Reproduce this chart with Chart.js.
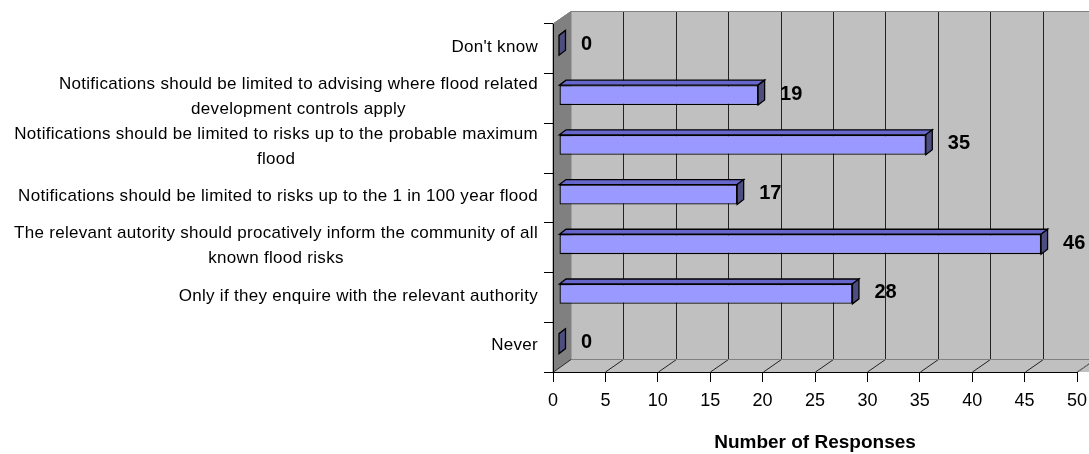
<!DOCTYPE html>
<html>
<head>
<meta charset="utf-8">
<script src="https://cdn.jsdelivr.net/npm/chart.js@4.4.1/dist/chart.umd.min.js"></script>
<style>
  html, body { margin: 0; padding: 0; background: #fff; }
</style>
</head>
<body>
<canvas id="chart" width="1089" height="454"></canvas>
<script>
// ===== Data =====
const categories = [
  ["Don't know"],
  ['Notifications should be limited to advising where flood related', 'development controls apply'],
  ['Notifications should be limited to risks up to the probable maximum', 'flood'],
  ['Notifications should be limited to risks up to the 1 in 100 year flood'],
  ['The relevant autority should procatively inform the community of all', 'known flood risks'],
  ['Only if they enquire with the relevant authority'],
  ['Never']
];
const responses = [0, 19, 35, 17, 46, 28, 0];
const xTickValues = [0, 5, 10, 15, 20, 25, 30, 35, 40, 45, 50];
const axisTitle = 'Number of Responses';

// ===== Look =====
const FONT = 'Arial, "Liberation Sans", sans-serif';
const WALL = { dx: 18, dy: -12.5 };      // depth of the box (front plane -> back wall)
const BAR_SHIFT = { dx: 6, dy: -3.5 };   // front face of the bars sits 1/3 into the box
const BAR_DEPTH = { dx: 6.5, dy: -5 };
const LINE_H = 25;

function poly(ctx, pts, fill, stroke) {
  ctx.beginPath();
  pts.forEach(([px, py], i) => (i ? ctx.lineTo(px, py) : ctx.moveTo(px, py)));
  ctx.closePath();
  if (fill) { ctx.fillStyle = fill; ctx.fill(); }
  if (stroke) { ctx.strokeStyle = stroke; ctx.stroke(); }
}

// --- back wall, side wall, floor and gridlines ---
const box3d = {
  id: 'box3d',
  beforeDraw(chart) {
    const { ctx, chartArea: a, scales: { x } } = chart;
    const { dx, dy } = WALL;
    ctx.save();
    ctx.lineWidth = 1;
    ctx.fillStyle = '#c0c0c0';
    ctx.fillRect(a.left + dx, a.top + dy, chart.width, a.height);
    poly(ctx, [[a.left, a.top], [a.left + dx, a.top + dy], [a.left + dx, a.bottom + dy], [a.left, a.bottom]], '#808080', '#808080');
    poly(ctx, [[a.left, a.bottom], [a.left + dx, a.bottom + dy], [chart.width + dx, a.bottom + dy], [chart.width, a.bottom]], '#c0c0c0', null);

    ctx.strokeStyle = '#222';
    x.ticks.forEach(t => {
      const px = Math.round(x.getPixelForValue(t.value));
      ctx.beginPath();
      if (t.value !== 0) {
        ctx.moveTo(px + dx + 0.5, a.top + dy);
        ctx.lineTo(px + dx + 0.5, a.bottom + dy);
      } else {
        ctx.moveTo(px + dx, a.bottom + dy);
      }
      ctx.lineTo(px + 0.5, a.bottom);
      ctx.stroke();
    });
    // edges of the box
    ctx.strokeStyle = '#808080';
    ctx.beginPath();
    ctx.moveTo(a.left, a.top);
    ctx.lineTo(a.left + dx, a.top + dy);
    ctx.lineTo(chart.width, a.top + dy);
    ctx.moveTo(a.left + dx, a.bottom + dy);
    ctx.lineTo(chart.width, a.bottom + dy);
    ctx.moveTo(x.getPixelForValue(50), a.bottom);
    ctx.lineTo(x.getPixelForValue(50) + dx, a.bottom + dy);
    ctx.stroke();
    ctx.restore();
  },
  beforeDatasetsDraw(chart) {
    chart.ctx.save();
    chart.ctx.translate(BAR_SHIFT.dx, BAR_SHIFT.dy);
  },
  afterDatasetsDraw(chart) {
    const { ctx } = chart;
    const meta = chart.getDatasetMeta(0);
    const { dx, dy } = BAR_DEPTH;
    ctx.lineWidth = 1.3;
    meta.data.forEach(bar => {
      const { x, y, base, height } = bar.getProps(['x', 'y', 'base', 'height'], true);
      const t = y - height / 2, b = y + height / 2;
      poly(ctx, [[base, t], [base + dx, t + dy], [x + dx, t + dy], [x, t]], '#6666cc', '#000');
      poly(ctx, [[x, t], [x + dx, t + dy], [x + dx, b + dy], [x, b]], '#4d4d80', '#000');
    });
    ctx.restore();

    // value labels
    ctx.save();
    ctx.font = `bold 20px ${FONT}`;
    ctx.fillStyle = '#000';
    ctx.textAlign = 'left';
    ctx.textBaseline = 'middle';
    meta.data.forEach((bar, i) => {
      ctx.fillText(String(responses[i]), bar.x + BAR_SHIFT.dx + 22, bar.y + BAR_SHIFT.dy - 1);
    });
    ctx.restore();
  }
};

// --- category labels: block right-aligned, lines centred ---
const categoryLabels = {
  id: 'categoryLabels',
  afterDraw(chart) {
    const { ctx, scales: { y } } = chart;
    ctx.save();
    ctx.font = `17px ${FONT}`;
    ctx.letterSpacing = '0.3px';
    ctx.fillStyle = '#000';
    ctx.textAlign = 'center';
    ctx.textBaseline = 'middle';
    const right = y.right - 15;
    categories.forEach((lines, i) => {
      const w = Math.max(...lines.map(l => ctx.measureText(l).width));
      const cx = right - w / 2;
      const cy = y.getPixelForValue(i) - 1.5;
      lines.forEach((l, k) => ctx.fillText(l, cx, cy + (k - (lines.length - 1) / 2) * LINE_H));
    });
    ctx.restore();
  }
};

// ===== Chart =====
new Chart(document.getElementById('chart'), {
  type: 'bar',
  data: {
    labels: categories.map(l => l.join(' ')),
    datasets: [{
      data: responses,
      backgroundColor: '#9999ff',
      borderColor: '#000',
      borderWidth: 1.3,
      borderSkipped: false,
      barPercentage: 0.4,
      categoryPercentage: 1
    }]
  },
  options: {
    indexAxis: 'y',
    responsive: false,
    animation: false,
    layout: { padding: { top: 24, right: 12, left: 0, bottom: 0 } },
    plugins: { legend: { display: false }, tooltip: { enabled: false } },
    scales: {
      x: {
        min: xTickValues[0],
        max: xTickValues[xTickValues.length - 1],
        afterBuildTicks: s => { s.ticks = xTickValues.map(v => ({ value: v })); },
        grid: { drawOnChartArea: false, tickLength: 10, color: '#000' },
        border: { display: true, color: '#000' },
        ticks: { color: '#000', font: { family: FONT, size: 18 }, padding: 8, maxRotation: 0 },
        title: {
          display: true, text: axisTitle, color: '#000',
          font: { family: FONT, size: 19, weight: 'bold' }, padding: { top: 0, bottom: 0 }
        },
        afterFit: s => { s.height = 82; s.paddingLeft = 0; s.paddingRight = 0; }
      },
      y: {
        grid: { drawOnChartArea: false, tickLength: 9, color: '#000' },
        border: { display: true, color: '#000' },
        ticks: { display: false },
        afterFit: s => { s.width = 553; }
      }
    }
  },
  plugins: [box3d, categoryLabels]
});
</script>
</body>
</html>
